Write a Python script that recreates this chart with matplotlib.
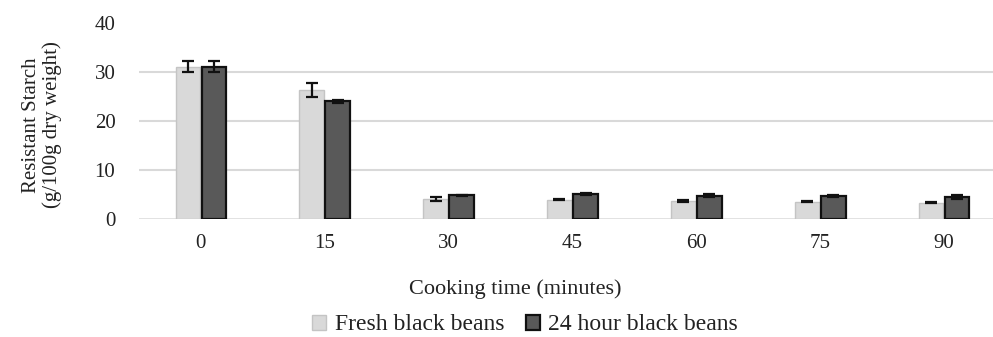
import matplotlib
matplotlib.use("Agg")
import matplotlib.pyplot as plt
import numpy as np

# ---------------------------------------------------------------------------
# Data
# ---------------------------------------------------------------------------

COOK_TIMES = ["0", "15", "30", "45", "60", "75", "90"]

FRESH_RS = [31.1, 26.3, 4.1, 3.95, 3.7, 3.5, 3.3]
FRESH_ERR = [1.05, 1.4, 0.45, 0.15, 0.15, 0.1, 0.1]

SOAKED_RS = [31.1, 24.0, 4.8, 5.2, 4.75, 4.7, 4.5]
SOAKED_ERR = [1.05, 0.35, 0.2, 0.2, 0.35, 0.25, 0.4]

SERIES_LABELS = ["Fresh black beans", "24 hour black beans"]
Y_TICKS = [0, 10, 20, 30, 40]

# ---------------------------------------------------------------------------
# Plot
# ---------------------------------------------------------------------------

plt.rcParams["font.family"] = ["Liberation Serif", "DejaVu Serif"]
TXT = "#222222"

W, H = 993, 337
fig = plt.figure(figsize=(W / 100, H / 100), dpi=100)
fig.patch.set_facecolor("white")

# axes extends past the right edge, like the cropped original
left, right, top, bottom = 139, 1006, 23, 219
ax = fig.add_axes([left / W, 1 - bottom / H, (right - left) / W, (bottom - top) / H])

x = np.arange(len(COOK_TIMES))
bw = 0.2
off = 0.105

ax.bar(x - off, FRESH_RS, bw, color="#d9d9d9", edgecolor="#c4c4c4",
       linewidth=1.0, zorder=3, label=SERIES_LABELS[0])
ax.bar(x + off, SOAKED_RS, bw, color="#595959", edgecolor="#111111",
       linewidth=1.6, zorder=3, label=SERIES_LABELS[1])

err_kw = dict(fmt="none", ecolor="#111111", elinewidth=1.6, capsize=4,
              capthick=1.6, zorder=4)
ax.errorbar(x - off, FRESH_RS, yerr=FRESH_ERR, **err_kw)
ax.errorbar(x + off, SOAKED_RS, yerr=SOAKED_ERR, **err_kw)

ax.set_xlim(-0.5, len(COOK_TIMES) - 0.5)
ax.set_ylim(0, 40)
ax.set_yticks(Y_TICKS)
ax.set_yticklabels([str(t) for t in Y_TICKS], fontsize=15, color=TXT)
ax.set_xticks(x)
ax.set_xticklabels(COOK_TIMES, fontsize=15, color=TXT)
ax.tick_params(axis="both", length=0)
ax.tick_params(axis="y", pad=17)
ax.tick_params(axis="x", pad=11)

for t in Y_TICKS[1:-1]:
    ax.axhline(t, color="#d9d9d9", linewidth=1.5, zorder=1)
ax.axhline(0, color="#d9d9d9", linewidth=1.8, zorder=2)

for spine in ax.spines.values():
    spine.set_visible(False)

ax.set_ylabel("Resistant Starch\n(g/100g dry weight)", fontsize=15,
              color=TXT, linespacing=1.1)
ax.yaxis.set_label_coords(-77 / (right - left), 0.48)

fig.text(515 / W, 1 - 289 / H, "Cooking time (minutes)", fontsize=16,
         color=TXT, ha="center", va="center")

fig.legend(loc="center", bbox_to_anchor=(525 / W, 1 - 325 / H), ncol=2,
           frameon=False, fontsize=17, handlelength=0.6, handleheight=0.6,
           handletextpad=0.35, columnspacing=0.9, labelcolor=TXT)

fig.savefig("out.png", dpi=100, facecolor="white")
